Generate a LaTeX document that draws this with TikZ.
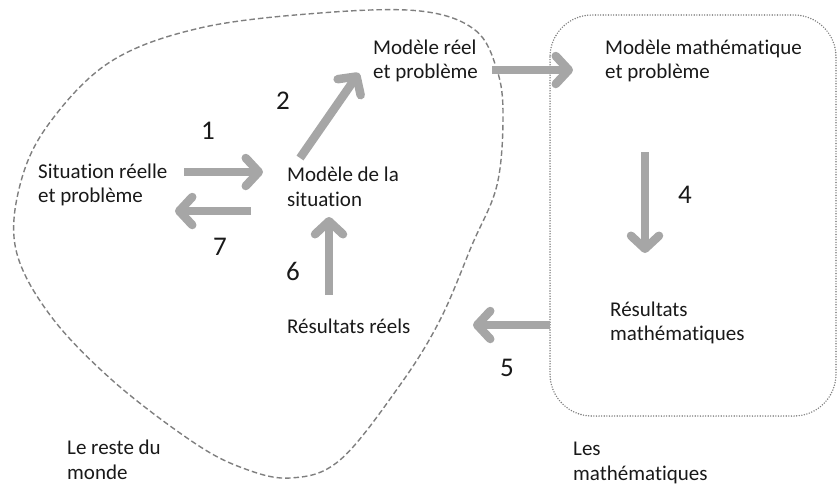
\documentclass[tikz,border=0pt]{standalone}
\usepackage{fontspec}
\setmainfont{Carlito}[Ligatures=NoCommon]
\usetikzlibrary{arrows.meta}
\definecolor{arrgray}{HTML}{A6A6A6}
\definecolor{linegray}{HTML}{7F7F7F}
\begin{document}
\begin{tikzpicture}[x=1pt,y=-1pt,
  txt/.style={anchor=west,align=left,inner sep=0pt,font=\fontsize{21}{24.5}\selectfont,text=black!90},
  num/.style={inner sep=0pt,font=\fontsize{27}{30}\selectfont,text=black!90},
  bigarrow/.style={draw=arrgray,line width=8.5pt,-{Straight Barb[length=13pt,width=28pt,round]}},
  dashedline/.style={draw=linegray,line width=1.4pt,dash pattern=on 5.5pt off 3pt},
  dottedline/.style={draw=linegray,line width=1.6pt,dash pattern=on 0pt off 2.6pt,line cap=round}]
\useasboundingbox (0,0) rectangle (838,485);
% regions
\draw[dashedline] plot[smooth cycle,tension=0.6] coordinates {(420,11) (475,30) (497,70) (503,115) (497,185) (472,245) (440,320) (400,385) (340,460) (290,478) (240,467) (190,440) (112,380) (50,315) (16,250) (20,185) (48,125) (110,62) (200,28) (320,13)};
\draw[dottedline,rounded corners=42pt] (550,15) rectangle (836,416);
% text nodes
\node[txt] (sit) at (38,185) {Situation réelle\\et problème};
\node[txt] (mod) at (287,187) {Modèle de la\\situation};
\node[txt] (reel) at (373,61) {Modèle réel\\et problème};
\node[txt] (math) at (605,61) {Modèle mathématique\\et problème};
\node[txt] (resm) at (610,323) {Résultats\\mathématiques};
\node[txt] (resr) at (287,326) {Résultats réels};
\node[txt] (monde) at (67,460) {Le reste du\\monde};
\node[txt] (lesm) at (573,463) {Les\\mathématiques};
% numbers
\node[num] (n1) at (208,131) {1};
\node[num] (n2) at (283,101) {2};
\node[num] (n4) at (685,195) {4};
\node[num] (n5) at (507,368) {5};
\node[num] (n6) at (293,271) {6};
\node[num] (n7) at (220,247) {7};
% arrow ends
\coordinate (a1s) at (184,172); \coordinate (a1e) at (263,172);
\coordinate (a7s) at (251,211); \coordinate (a7e) at (175,211);
\coordinate (a2s) at (300,158); \coordinate (a2e) at (359,73);
\coordinate (a3s) at (492,70);  \coordinate (a3e) at (573,70);
\coordinate (a4s) at (645,152); \coordinate (a4e) at (645,253);
\coordinate (a5s) at (550,325); \coordinate (a5e) at (473,325);
\coordinate (a6s) at (329,295); \coordinate (a6e) at (329,217);
\draw[bigarrow] (a1s) -- (a1e);
\draw[bigarrow] (a7s) -- (a7e);
\draw[bigarrow] (a2s) -- (a2e);
\draw[bigarrow] (a3s) -- (a3e);
\draw[bigarrow] (a4s) -- (a4e);
\draw[bigarrow] (a5s) -- (a5e);
\draw[bigarrow] (a6s) -- (a6e);
\end{tikzpicture}
\end{document}
